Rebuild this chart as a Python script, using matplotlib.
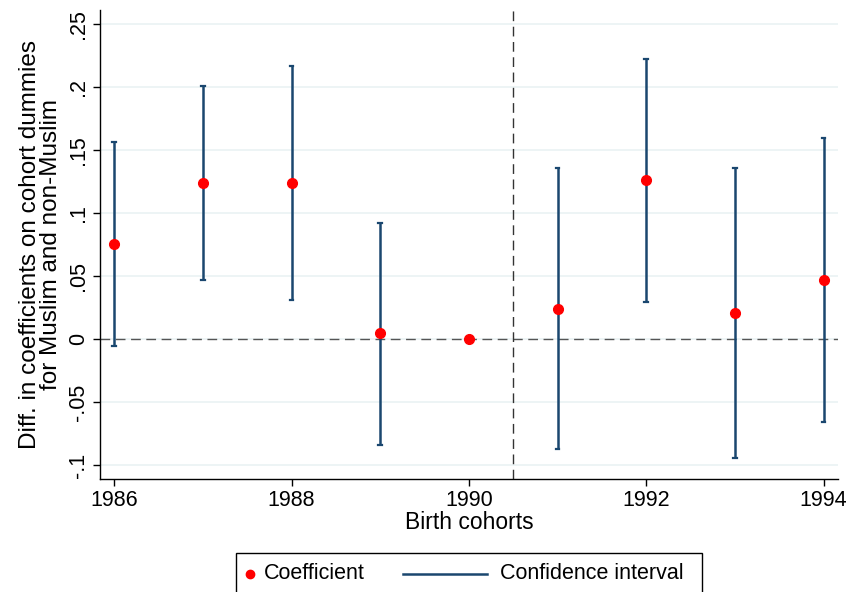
import matplotlib
matplotlib.use("Agg")
import matplotlib.pyplot as plt
from matplotlib.lines import Line2D
from matplotlib.patches import Rectangle

plt.rcParams['font.family'] = ['Liberation Sans', 'DejaVu Sans']

years = [1986, 1987, 1988, 1989, 1990, 1991, 1992, 1993, 1994]
coef = [0.075, 0.124, 0.124, 0.0045, 0.0, 0.024, 0.126, 0.021, 0.047]
ci_low = [-0.0055, 0.047, 0.031, -0.084, None, -0.0875, 0.029, -0.094, -0.0655]
ci_high = [0.156, 0.201, 0.2165, 0.092, None, 0.1355, 0.2225, 0.1355, 0.1595]
yticks = [-0.1, -0.05, 0, 0.05, 0.1, 0.15, 0.2, 0.25]
ytick_labels = ['-.1', '-.05', '0', '.05', '.1', '.15', '.2', '.25']
xticks = [1986, 1988, 1990, 1992, 1994]
cutoff = 1990.5
legend_labels = ['Coefficient', 'Confidence interval']

navy = '#1a476f'
fig = plt.figure(figsize=(8.5, 5.92), dpi=100)
ax = fig.add_axes([0.1176, 0.191, 0.868, 0.792])

for y in yticks:
    ax.axhline(y, color='#eaf2f3', lw=1.2, zorder=0)

for x, lo, hi in zip(years, ci_low, ci_high):
    if lo is None:
        continue
    ax.plot([x, x], [lo, hi], color=navy, lw=1.8, zorder=2, solid_capstyle='butt')
    for yy in (lo, hi):
        ax.plot([x - 0.02, x + 0.02], [yy, yy], color=navy, lw=1.6, zorder=2)

ax.axhline(0, color='#555555', lw=1.0, ls=(0, (7, 4)), zorder=1)
ax.axvline(cutoff, color='#333333', lw=1.0, ls=(0, (7, 4)), zorder=1)
ax.plot(years, coef, 'o', color='red', ms=7, mec='red', zorder=3)

ax.set_xlim(1985.84, 1994.16)
ax.set_ylim(-0.111, 0.261)
ax.set_yticks(yticks)
ax.set_yticklabels(ytick_labels, rotation=90, va='center')
ax.set_xticks(xticks)
ax.tick_params(axis='both', labelsize=15.5, length=5, width=1, direction='out', pad=3)
for s in ['top', 'right']:
    ax.spines[s].set_visible(False)
for s in ['left', 'bottom']:
    ax.spines[s].set_linewidth(1.0)

ax.set_xlabel('Birth cohorts', fontsize=16.5, labelpad=0)
ax.set_ylabel('Diff. in coefficients on cohort dummies\nfor Muslim and non-Muslim',
              fontsize=17.5, labelpad=4, linespacing=0.95)

# legend drawn in figure coordinates
fig.patches.append(Rectangle((0.2776, -0.03), 0.548, 0.0959, transform=fig.transFigure,
                             fill=False, edgecolor='black', lw=1.0))
fig.add_artist(Line2D([0.2945], [0.031], marker='o', color='red', ls='none', ms=6,
                      transform=fig.transFigure))
fig.text(0.311, 0.031, legend_labels[0], fontsize=15.5, va='center', ha='left')
fig.add_artist(Line2D([0.474, 0.573], [0.031, 0.031], color=navy, lw=1.8,
                      transform=fig.transFigure))
fig.text(0.588, 0.031, legend_labels[1], fontsize=15.5, va='center', ha='left')

fig.savefig('out.png', dpi=100)
